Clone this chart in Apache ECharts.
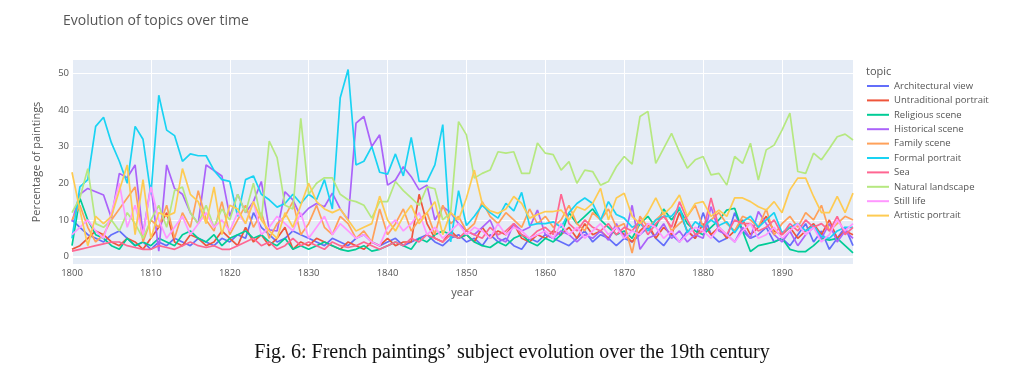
<!DOCTYPE html>
<html>
<head>
<meta charset="utf-8">
<script src="https://cdn.jsdelivr.net/npm/echarts@6/dist/echarts.min.js"></script>
<style>
html,body{margin:0;padding:0;background:#fff;}
#c{width:1024px;height:377px;}
</style>
</head>
<body>
<div id="c"></div>
<script>
const years = [];
for (let y = 1800; y <= 1899; y++) years.push(y);

const topicNames = ["Architectural view","Untraditional portrait","Religious scene","Historical scene","Family scene","Formal portrait","Sea","Natural landscape","Still life","Artistic portrait"];
const topicColors = ["#636EFA","#EF553B","#00CC96","#AB63FA","#FFA15A","#19D3F3","#FF6692","#B6E880","#FF97FF","#FECB52"];

const architecturalView = [
10,8,6,5,4,6,7,5,3,4,
2,4,3,5,4,3,5,4,3,5,
4,6,5,12,8,6,4,5,7,6,
5,4,3,5,4,3,5,6,4,3,
4,5,3,4,5,6,4,3,5,6,
4,5,3,6,4,5,3,2,5,4,
6,5,4,3,5,7,4,6,5,3,
5,4,6,8,5,3,6,4,7,5,
12,6,4,5,12,7,5,6,8,4,
5,3,6,9,4,7,2,5,8,3];

const untraditionalPortrait = [
2,3,5,7,6,4,3,5,4,2,
5,8,12,4,3,6,5,3,4,7,
5,3,8,4,6,3,5,8,2,4,
3,5,4,3,2,4,3,2,4,3,
5,3,4,4,17,9,5,4,7,5,
6,4,8,5,7,6,9,5,4,6,
5,7,6,8,5,9,6,7,5,8,
6,4,7,9,5,8,6,12,7,5,
9,6,8,5,7,10,6,8,11,7,
6,8,5,7,9,6,10,5,7,6];

const religiousScene = [
3,16,10,6,5,3,2,5,3,4,
3,5,4,3,6,7,5,4,6,3,
5,6,7,5,6,4,3,5,2,3,
2,3,4,3,2,1.5,2,3,1.5,2,
3,4,3,2,5,4,6,7,6,5,
6,4,3,2.5,4,3,5,6,4,3,
5,4,6,12,9,11,13,10,8,6,
7,5,9,11,8,13,10,13,9,7,
6,8,10,12.7,13.2,7,1.4,3,3.5,4,
5,2,1.4,1.4,3,5,4.5,5,3,1];

const historicalScene = [
9.5,17,18.6,17.7,16.8,10.5,22.7,21.5,25,6,
19.5,1.5,25,18.6,17,12,9,25,23.5,22,
11,17,12,15,20.5,7.3,7,17.7,15.5,10.9,
13.2,14.5,13.6,17.3,13,10,36.4,38.2,30,33.2,
19.5,20.9,24.5,21.8,18.2,19.5,10,13.6,12,9,
7,6,8,10,5,4,9,7,8,12.7,
6,5,7,6,4,6,5,7,4.5,9,
5,14,2,5,6,9,5,7,4,6,
5,13.6,7,6,4,8,5,12.3,9,6,
4,7,3,6,8,5,9,4,7,5];

const familyScene = [
10,14,8,4,6,10,13,16,19,4,
10,8,14,5,12,8,18,10,7,15,
6,10,14,8,12,5,9,11,15,6,
9,14,8,6,11,9,5,7,4,13,
6,9,13,7,10,12,6,14,9,11,
7,9,15,11,9,12,10,8,13,9,
11,8,10,14,9,7,12,10,13,8,
9,1,11,8,10,12,7,9,11,14,
8,10,12,9,7,11,10,8,13,6,
9,11,8,12,10,14,7,9,11,10];

const formalPortrait = [
5,19,21,35.5,38,31,26,20,35.5,32,
17,44,34.5,33,26,28,27.5,27.5,23.5,21,
20.5,11,21,22,17,15.5,13.5,14.5,17,14.5,
17,15.5,21,13,43.3,51,25,26,30,23,
22.5,28,22,32.5,20.5,20.5,25,36,4,18,
8.5,11,14,12,10.5,14.5,12.5,17.5,8.5,9,
9,9.5,8,12,14.5,16,14.5,10,15,11.5,
10.5,8,9,7,10,11,11,13.5,6.5,9.5,
8,10,8.5,9.5,6.5,9.5,11,8,10,12,
6.5,8,9,7,8.5,5.5,5,7,8,8];

const sea = [
1.5,2,2.5,3,3.5,4,4,3,2.5,2,
2,3,2.5,2,3,4,3,2.5,3,2,
2,3,4,5,3,4,2,3,5,3,
4,3,2,4,3,2.5,3,4,3,2,
3,4,3,5,4,6,5,4,6,5,
7,6,5,8,6,7,9,6,5,7,
8,6,17,9,7,10,8,7,9,6,
8,7,10,6,9,11,8,15,10,6,
7,16,8,6,10,9,9,7,8,10,
6,9,7,10,8,9,7,11,6,8];

const naturalLandscape = [
12,16,24,9,8,10,7,12,9,5,
10,14,8,18,19,12,9,14,8,13,
10,17,12,20,10,31.5,27,14,13,37.7,
17,20,21.5,21.5,17,15.5,15,14,10.5,15,
15,20.5,18,16,14,19,18.5,10,12,36.8,
33.2,21.4,22.7,23.6,28.6,28.2,28.6,22.7,22.7,31,
28.2,27.8,23.6,25.9,20,23.6,23.2,19.5,20.5,24.5,
27.3,25.2,38.2,39.6,25.4,29.5,33.6,28.6,24.1,26.4,
27.3,22.3,22.7,19.5,27.3,25.4,30.9,20.9,29.1,30.4,
34.5,39.1,23.2,22.7,28.2,26.4,29.5,32.7,33.4,31.8];

const stillLife = [
6,8,10,7,5,12,20,8,14,6,
19,10,5,8,11,6,9,12,8,10,
7,12,9,15,6,8,11,9,7,12,
5,8,11,6,9,7,5,6,4,3,
8,10,7,9,12,6,8,5,7,9,
6,8,7,5,9,6,8,7,5,6,
7,5,9,6,8,5,7,9,6,8,
5,7,6,9,8,5,7,4,6,8,
7,5,8,6,4,7,9,5,6,8,
5,7,9,6,8,4,6,10,7,9];

const artisticPortrait = [
23,12.7,3,11,9,11,18,25,6,21,
5,12,11,12,24,17,15,9,19,6,
14,13,9,15,10,7,5,12,8,14,
20,15,13,12,13,10,7,8,9,16.5,
10,7,11,14,9,12,15,6,12,10,
16,23.6,14.5,12.5,11.8,13,16.4,14.5,10.5,11.5,
12.3,12.3,12.7,10,13.6,12.7,14.5,18.6,10,16,
17.3,11,9,12,16,11.5,13.6,16.8,11,14.5,
15,11,12.7,11,16,16,15,13.6,12.7,15,
12,18.2,21.4,21.4,16.4,12,12,16.4,12,17.3];

const seriesValues = [architecturalView, untraditionalPortrait, religiousScene, historicalScene, familyScene, formalPortrait, sea, naturalLandscape, stillLife, artisticPortrait];

const FONT = '"Open Sans", "Noto Sans", sans-serif';

const series = topicNames.map((name, i) => {
  const s = {
    name: name,
    type: 'line',
    data: years.map((y, k) => [y, seriesValues[i][k]]),
    showSymbol: false,
    symbol: 'none',
    lineStyle: { width: 1.7, color: topicColors[i] },
    itemStyle: { color: topicColors[i] },
    emphasis: { disabled: true },
    animation: false
  };
  if (i === 0) {
    s.markLine = {
      silent: true,
      symbol: ['none', 'none'],
      label: { show: false },
      lineStyle: { color: '#ffffff', width: 2, type: 'solid' },
      data: [{ yAxis: 0 }],
      animation: false,
      z: 0
    };
  }
  return s;
});

const chart = echarts.init(document.getElementById('c'), null, { renderer: 'canvas' });
chart.setOption({
  animation: false,
  backgroundColor: '#ffffff',
  title: [
    { text: 'Evolution of topics over time', left: 58, top: 9,
      textStyle: { fontFamily: FONT, fontSize: 14, fontWeight: 'normal', color: '#555' } },
    { text: 'topic', left: 861, top: 61,
      textStyle: { fontFamily: FONT, fontSize: 11, fontWeight: 'normal', color: '#555' } },
    { text: "Fig. 6: French paintings\u2019 subject evolution over the 19th century", left: 'center', top: 338,
      textStyle: { fontFamily: '"Liberation Serif", "DejaVu Serif", serif', fontSize: 20, fontWeight: 'normal', color: '#111' } }
  ],
  legend: {
    orient: 'vertical',
    left: 862,
    top: 75,
    itemWidth: 22,
    itemHeight: 2,
    itemGap: 2.4,
    icon: 'rect',
    textStyle: { fontFamily: FONT, fontSize: 9.5, color: '#555', lineHeight: 12 },
    data: topicNames
  },
  grid: {
    left: 72, right: 171, top: 60, bottom: 113,
    show: true, backgroundColor: '#E5ECF6', borderWidth: 0,
    containLabel: false
  },
  xAxis: {
    type: 'value',
    min: 1800, max: 1899, interval: 10,
    name: 'year', nameLocation: 'middle', nameGap: 23,
    nameTextStyle: { fontFamily: FONT, fontSize: 11, color: '#555' },
    axisLine: { show: false }, axisTick: { show: false },
    axisLabel: { fontFamily: FONT, fontSize: 9.5, color: '#555', margin: 4, showMaxLabel: false,
      formatter: function (v) { return String(v); } },
    splitLine: { show: true, lineStyle: { color: '#ffffff', width: 1 }, showMaxLine: false }
  },
  yAxis: {
    type: 'value',
    min: -2, max: 53.6, splitNumber: 5,
    name: 'Percentage of paintings', nameLocation: 'middle', nameGap: 30, nameRotate: 90,
    nameTextStyle: { fontFamily: FONT, fontSize: 11, color: '#555' },
    axisLine: { show: false }, axisTick: { show: false },
    axisLabel: { fontFamily: FONT, fontSize: 9.5, color: '#555', margin: 3, showMinLabel: false, showMaxLabel: false },
    splitLine: { show: true, lineStyle: { color: '#ffffff', width: 1 }, showMinLine: false, showMaxLine: false }
  },
  series: series
});
</script>
</body>
</html>
